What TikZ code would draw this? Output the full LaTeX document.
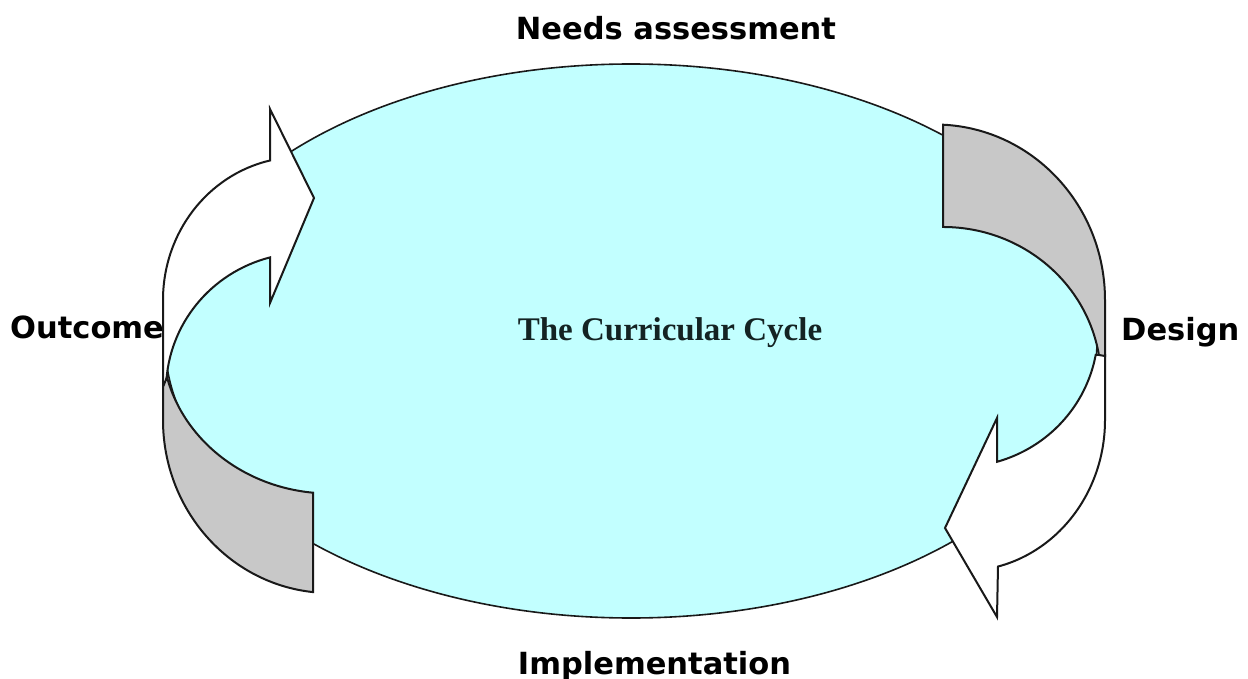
\documentclass[tikz,border=0pt]{standalone}
\usepackage{fontspec}
\setmainfont{Liberation Serif}
\newfontfamily\lblfont{DejaVu Sans}
\definecolor{cyanfill}{RGB}{194,255,255}
\definecolor{bandgray}{RGB}{200,200,200}
\definecolor{edgecol}{RGB}{25,25,25}
\definecolor{titlecol}{RGB}{20,35,35}
\begin{document}
\begin{tikzpicture}[x=1pt,y=1pt,
  shapeline/.style={draw=edgecol, line width=2pt, line join=miter},
  lbl/.style={font=\lblfont\bfseries\fontsize{30.5}{36}\selectfont, inner sep=0pt, text=black},
  title/.style={font=\bfseries\fontsize{33}{38}\selectfont, inner sep=0pt, text=titlecol}]
\useasboundingbox (0,0) rectangle (1248,-679);
\fill[white] (0,0) rectangle (1248,-679);
% labels behind the shapes (the outline crosses the end of "Outcome")
\node[lbl, anchor=base west] (outcome) at (10,-338) {Outcome};
\node[lbl, anchor=base west] (design) at (1121,-340) {Design};
% main ellipse
\path[shapeline, line width=1.6pt, fill=cyanfill] (631,-341) ellipse[x radius=466, y radius=277];
% top-left white curved arrow
\path[shapeline, fill=white] (163,-385) -- (163,-300)
  arc[start angle=180, end angle=102.6, x radius=137, y radius=143]
  -- (270,-109) -- (314,-198) -- (270,-303) -- (270,-257.4)
  arc[start angle=104.6, end angle=178, x radius=139, y radius=137] -- cycle;
% bottom-left gray band
\path[shapeline, fill=bandgray] (163,-387) -- (163,-420)
  arc[start angle=180, end angle=264.2, x radius=167, y radius=173]
  -- (313,-492.7)
  arc[start angle=264.2, end angle=194, x radius=168, y radius=153.5] -- cycle;
% bottom-right white curved arrow
\path[shapeline, fill=white] (1105,-355) -- (1105,-420)
  arc[start angle=0, end angle=-76.05, x radius=141, y radius=151]
  -- (997,-617) -- (945,-528) -- (997,-418) -- (997,-461.8)
  arc[start angle=-74.14, end angle=-10.5, x radius=139, y radius=137] -- cycle;
% top-right gray band
\path[shapeline, fill=bandgray] (943,-124.7)
  arc[start angle=87.3, end angle=0, x radius=170, y radius=175.5]
  -- (1105,-356) -- (1098.9,-355)
  arc[start angle=9.4, end angle=90, x radius=158, y radius=153] -- cycle;
% other labels
\node[lbl, anchor=base] (needs) at (676,-40) {Needs assessment};
\node[lbl, anchor=base] (impl) at (654.5,-674) {Implementation};
\node[title, anchor=base] (cycle) at (670,-340) {The Curricular Cycle};
\end{tikzpicture}
\end{document}
